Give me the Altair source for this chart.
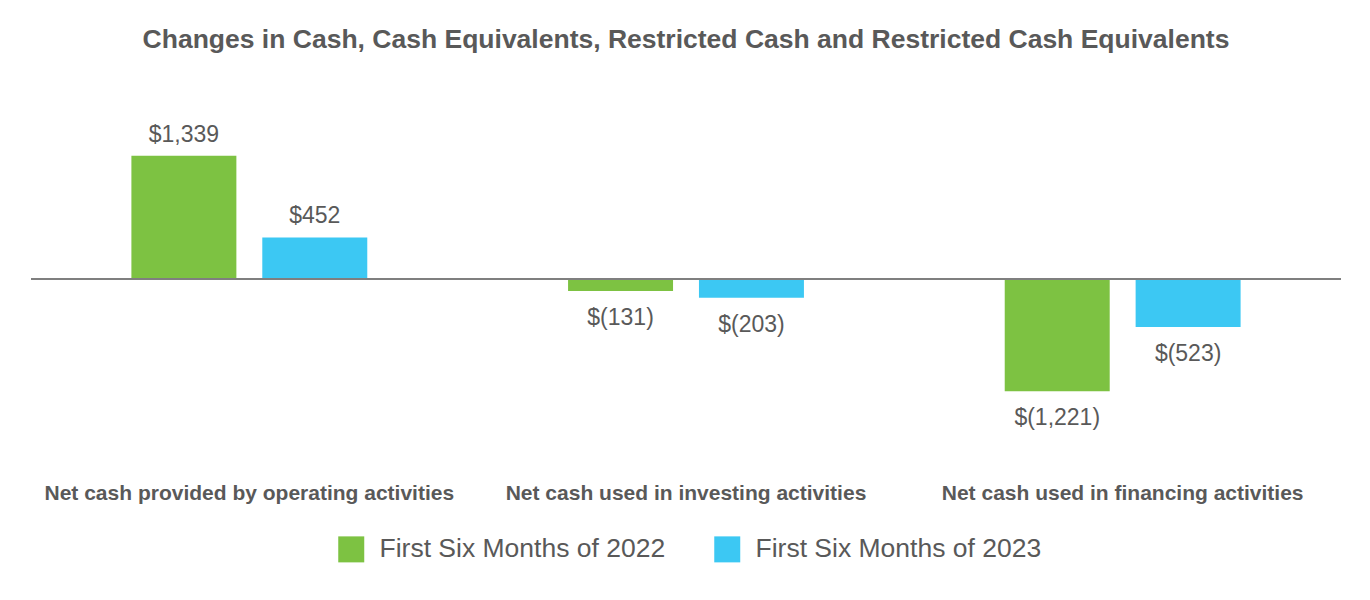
import altair as alt
import pandas as pd

categories = [
    "Net cash provided by operating activities",
    "Net cash used in investing activities",
    "Net cash used in financing activities",
]
series_names = ["First Six Months of 2022", "First Six Months of 2023"]
values_2022 = [1339, -131, -1221]
values_2023 = [452, -203, -523]
colors = ["#7DC242", "#3CC8F3"]

def fmt(v):
    return f"${v:,}" if v >= 0 else f"$({abs(v):,})"

rows = []
for c, a, b in zip(categories, values_2022, values_2023):
    rows.append({"category": c, "series": series_names[0], "value": a, "label": fmt(a)})
    rows.append({"category": c, "series": series_names[1], "value": b, "label": fmt(b)})
df = pd.DataFrame(rows)

FONT = "Liberation Sans"
TXT = "#595959"

x_enc = alt.X("category:N", sort=categories, scale=alt.Scale(paddingInner=0, paddingOuter=0),
              axis=alt.Axis(title=None, orient="bottom", domain=False, ticks=False, tickSize=0,
                            labelPadding=19, labelFontSize=21, labelFontWeight="bold",
                            labelColor=TXT, labelFont=FONT, labelAngle=0, labelLimit=500))
xoff = alt.XOffset("series:N", sort=series_names,
                   scale=alt.Scale(paddingInner=0.198, paddingOuter=0.767))
y_enc = alt.Y("value:Q", scale=alt.Scale(domain=[-2000, 2000], nice=False, zero=True), axis=None)

base = alt.Chart(df)

bars = base.mark_bar().encode(
    x=x_enc, xOffset=xoff, y=y_enc,
    color=alt.Color("series:N", sort=series_names,
                    scale=alt.Scale(domain=series_names, range=colors),
                    legend=alt.Legend(title=None, orient="none", direction="horizontal",
                                      legendX=307, legendY=441, symbolType="square",
                                      symbolSize=676, symbolStrokeWidth=0, labelFontSize=26.5,
                                      labelColor=TXT, labelFont=FONT, labelOffset=15,
                                      columnPadding=48, padding=0, labelLimit=500)),
)

pos_text = base.transform_filter("datum.value >= 0").mark_text(
    baseline="bottom", dy=-9, fontSize=23, color=TXT, font=FONT
).encode(x=x_enc, xOffset=xoff, y=y_enc, text="label:N")

neg_text = base.transform_filter("datum.value < 0").mark_text(
    baseline="top", dy=16, fontSize=23, color=TXT, font=FONT
).encode(x=x_enc, xOffset=xoff, y=y_enc, text="label:N")

zero = alt.Chart(pd.DataFrame({"z": [0]})).mark_rule(color="#7F7F7F", strokeWidth=2).encode(
    y=alt.Y("z:Q", scale=alt.Scale(domain=[-2000, 2000], nice=False), axis=None)
)

chart = alt.layer(bars, zero, pos_text, neg_text).properties(
    width=1310, height=368,
    padding={"left": 22, "top": 19, "right": 10, "bottom": 10},
    title=alt.TitleParams(
        "Changes in Cash, Cash Equivalents, Restricted Cash and Restricted Cash Equivalents",
        fontSize=26.5, fontWeight="bold", color=TXT, font=FONT, anchor="middle", offset=41.5,
    ),
).configure_view(stroke=None)

chart.save("out.html", embed_options={"renderer": "svg", "actions": False})
